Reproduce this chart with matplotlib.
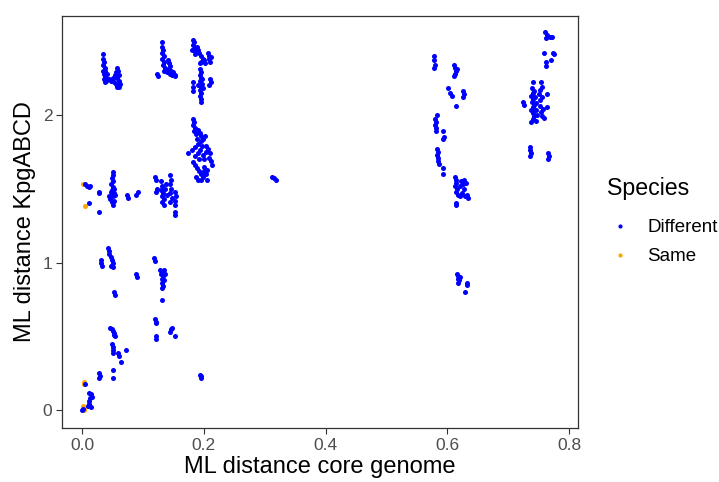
import numpy as np
import matplotlib
matplotlib.use("Agg")
import matplotlib.pyplot as plt
from matplotlib.lines import Line2D

plt.rcParams['font.family'] = ['Liberation Sans', 'DejaVu Sans']

# pairs of (core genome distance, KpgABCD distance)
# "Different" species pairs, grouped by cluster
top_left = [(0.034,2.41),(0.035,2.38),(0.036,2.36),(0.034,2.34),(0.037,2.32),(0.035,2.30),(0.036,2.28),
            (0.038,2.26),(0.036,2.24),(0.039,2.23),(0.037,2.22),(0.040,2.25),(0.045,2.24),(0.048,2.23),
            (0.052,2.22),(0.055,2.21),(0.058,2.20),(0.057,2.32),(0.059,2.30),(0.056,2.29),(0.060,2.27),
            (0.058,2.25),(0.061,2.23),(0.062,2.21),(0.054,2.27),(0.057,2.19),(0.060,2.19),(0.050,2.25),
            (0.038,2.30),(0.041,2.28)]
top_mid = [(0.131,2.49),(0.132,2.46),(0.133,2.44),(0.131,2.42),(0.134,2.40),(0.132,2.38),(0.135,2.36),
           (0.133,2.34),(0.136,2.32),(0.134,2.30),(0.137,2.31),(0.123,2.28),(0.124,2.26),(0.141,2.37),
           (0.143,2.35),(0.145,2.33),(0.142,2.31),(0.146,2.30),(0.144,2.28),(0.148,2.27),(0.150,2.29),
           (0.152,2.27),(0.153,2.26),(0.139,2.29)]
top_02 = [(0.182,2.51),(0.184,2.49),(0.183,2.47),(0.186,2.45),(0.181,2.44),(0.185,2.43),(0.188,2.46),
          (0.190,2.44),(0.186,2.41),(0.192,2.42),(0.195,2.40),(0.198,2.38),(0.196,2.36),(0.200,2.37),
          (0.202,2.35),(0.194,2.35),(0.207,2.42),(0.209,2.40),(0.208,2.38),(0.210,2.36),(0.211,2.39),
          (0.194,2.31),(0.195,2.29),(0.193,2.27),(0.196,2.25),(0.194,2.23),(0.197,2.21),(0.195,2.19),
          (0.193,2.17),(0.196,2.15),(0.194,2.13),(0.196,2.11),(0.195,2.09),(0.191,2.20),(0.198,2.18),
          (0.197,2.24),(0.183,2.22),(0.182,2.19),(0.183,2.16),(0.210,2.24),(0.211,2.22),(0.209,2.20)]
mid_02 = [(0.183,1.97),(0.184,1.95),(0.182,1.93),(0.185,1.91),(0.184,1.89),(0.187,1.87),(0.190,1.90),
          (0.193,1.88),(0.196,1.86),(0.199,1.84),(0.202,1.86),(0.195,1.82),(0.188,1.84),(0.191,1.80),
          (0.197,1.79),(0.204,1.79),(0.186,1.78),(0.174,1.74),(0.181,1.76),(0.185,1.72),(0.190,1.74),
          (0.194,1.76),(0.199,1.73),(0.203,1.75),(0.207,1.77),(0.210,1.74),(0.208,1.71),(0.212,1.69),
          (0.200,1.70),(0.192,1.70),(0.183,1.68),(0.186,1.66),(0.189,1.64),(0.192,1.62),(0.195,1.60),
          (0.198,1.58),(0.201,1.62),(0.204,1.60),(0.196,1.56),(0.187,1.58),(0.191,1.56),(0.205,1.56),
          (0.213,1.66),(0.200,1.65),(0.206,1.63)]
band_15 = [(0.005,1.53),(0.008,1.52),(0.011,1.51),(0.013,1.52),(0.028,1.48),(0.027,1.47),(0.012,1.40),
           (0.028,1.34),(0.050,1.61),(0.051,1.59),(0.049,1.57),(0.050,1.55),(0.048,1.53),(0.051,1.51),
           (0.049,1.49),(0.052,1.47),(0.050,1.45),(0.047,1.48),(0.053,1.50),(0.054,1.46),(0.046,1.43),
           (0.049,1.41),(0.053,1.42),(0.051,1.39),(0.044,1.45),(0.074,1.46),(0.075,1.44),(0.089,1.46),
           (0.092,1.48),(0.120,1.58),(0.121,1.56),(0.123,1.50),(0.122,1.48),(0.129,1.55),(0.131,1.52),
           (0.130,1.49),(0.133,1.47),(0.131,1.45),(0.134,1.43),(0.132,1.41),(0.135,1.39),(0.136,1.50),
           (0.145,1.59),(0.146,1.56),(0.144,1.53),(0.146,1.50),(0.145,1.47),(0.147,1.44),(0.144,1.41),
           (0.153,1.48),(0.154,1.45),(0.152,1.42),(0.153,1.39),(0.152,1.34),(0.153,1.32),(0.140,1.46),
           (0.138,1.53),(0.312,1.58),(0.316,1.57),(0.319,1.56)]
low_left = [(0.043,1.10),(0.044,1.08),(0.045,1.06),(0.031,1.02),(0.031,1.00),(0.032,0.98),(0.047,1.04),
            (0.049,1.02),(0.050,1.00),(0.048,0.98),(0.051,0.97),(0.118,1.03),(0.119,1.01),(0.128,0.95),
            (0.131,0.94),(0.134,0.95),(0.130,0.92),(0.133,0.91),(0.136,0.92),(0.131,0.89),(0.134,0.88),
            (0.132,0.86),(0.133,0.84),(0.131,0.83),(0.089,0.92),(0.090,0.90),(0.053,0.80),(0.054,0.78),
            (0.131,0.75),(0.120,0.62),(0.121,0.60),(0.121,0.59),(0.046,0.56),(0.049,0.55),(0.051,0.54),
            (0.052,0.52),(0.053,0.51),(0.054,0.50),(0.122,0.50),(0.122,0.48),(0.146,0.55),(0.148,0.56),
            (0.145,0.53),(0.152,0.50),(0.049,0.45),(0.050,0.43),(0.051,0.41),(0.051,0.39),(0.059,0.39),
            (0.060,0.37),(0.072,0.41),(0.064,0.33),(0.051,0.27),(0.051,0.22),(0.028,0.25),(0.029,0.23),
            (0.028,0.22),(0.194,0.24),(0.195,0.23),(0.196,0.22),(0.004,0.18),(0.012,0.12),(0.014,0.11),
            (0.016,0.09),(0.013,0.08),(0.011,0.06),(0.012,0.04),(0.010,0.03),(0.014,0.02),(0.000,0.00),
            (0.002,0.01)]
right_06 = [(0.578,2.40),(0.578,2.37),(0.579,2.34),(0.578,2.32),(0.611,2.34),(0.612,2.32),(0.614,2.30),
            (0.613,2.28),(0.611,2.26),(0.616,2.31),(0.601,2.18),(0.605,2.15),(0.608,2.13),(0.626,2.16),
            (0.627,2.14),(0.626,2.12),(0.615,2.06),(0.583,2.00),(0.580,1.97),(0.581,1.95),(0.580,1.93),
            (0.582,1.91),(0.581,1.89),(0.593,1.89),(0.594,1.85),(0.593,1.84),(0.583,1.77),(0.584,1.75),
            (0.583,1.73),(0.585,1.71),(0.584,1.69),(0.586,1.67),(0.593,1.64),(0.593,1.60),(0.613,1.58),
            (0.614,1.56),(0.615,1.54),(0.613,1.52),(0.616,1.50),(0.614,1.48),(0.617,1.46),(0.620,1.52),
            (0.622,1.55),(0.625,1.53),(0.628,1.56),(0.630,1.54),(0.627,1.50),(0.624,1.47),(0.629,1.45),
            (0.632,1.46),(0.634,1.44),(0.620,1.45),(0.615,1.40),(0.614,1.39),(0.616,0.92),(0.618,0.91),
            (0.620,0.90),(0.617,0.89),(0.619,0.88),(0.618,0.86),(0.633,0.86),(0.632,0.85),(0.629,0.80)]
right_075 = [(0.761,2.56),(0.763,2.54),(0.762,2.52),(0.768,2.53),(0.772,2.53),(0.759,2.42),(0.774,2.42),
             (0.775,2.41),(0.762,2.36),(0.762,2.33),(0.771,2.37),(0.741,2.22),(0.754,2.22),(0.755,2.19),
             (0.753,2.17),(0.739,2.18),(0.740,2.15),(0.738,2.13),(0.741,2.11),(0.739,2.09),(0.742,2.07),
             (0.740,2.05),(0.738,2.03),(0.741,2.01),(0.743,1.99),(0.740,1.97),(0.745,1.96),(0.738,1.95),
             (0.744,2.12),(0.746,2.08),(0.745,2.03),(0.747,2.00),(0.743,2.16),(0.751,2.14),(0.753,2.10),
             (0.752,2.06),(0.754,2.02),(0.756,1.99),(0.758,1.98),(0.755,2.12),(0.757,2.04),(0.764,2.14),
             (0.764,2.05),(0.725,2.09),(0.726,2.07),(0.736,1.78),(0.736,1.76),(0.737,1.74),(0.736,1.72),
             (0.766,1.74),(0.767,1.72),(0.766,1.70)]

# "Same" species pairs
same = [(0.002,1.53),(0.005,1.38),(0.003,0.18),(0.003,0.19),(0.002,0.03),(0.004,0.02),(0.003,0.00)]

different = np.array(top_left + top_mid + top_02 + mid_02 + band_15 + low_left + right_06 + right_075)
same = np.array(same)

xticks = [0.0, 0.2, 0.4, 0.6, 0.8]
yticks = [0, 1, 2]

fig = plt.figure(figsize=(7.19, 4.82), dpi=100)
ax = fig.add_axes([0.0862, 0.112, 0.718, 0.855])

ax.scatter(same[:, 0], same[:, 1], s=13, color='#FFA500', linewidths=0)
ax.scatter(different[:, 0], different[:, 1], s=13, color='#0000FF', linewidths=0)

ax.set_xlim(-0.033, 0.815)
ax.set_ylim(-0.12, 2.67)
ax.set_xticks(xticks)
ax.set_xticklabels(['0.0', '0.2', '0.4', '0.6', '0.8'])
ax.set_yticks(yticks)
ax.tick_params(direction='out', length=4, width=0.8, color='#333333',
               labelsize=12.5, labelcolor='#4D4D4D', pad=3)
for sp in ax.spines.values():
    sp.set_color('#333333')
    sp.set_linewidth(0.9)

ax.set_xlabel('ML distance core genome', fontsize=17, labelpad=2)
ax.set_ylabel('ML distance KpgABCD', fontsize=17, labelpad=5)

handles = [Line2D([], [], marker='o', linestyle='', markersize=3, color='#0000FF', markeredgewidth=0),
           Line2D([], [], marker='o', linestyle='', markersize=3, color='#FFA500', markeredgewidth=0)]
leg = fig.legend(handles, ['Different', 'Same'], title='Species', loc='upper left',
                 bbox_to_anchor=(0.821, 0.668), frameon=False, fontsize=13.5,
                 title_fontsize=16.7, handletextpad=0.75, labelspacing=0.62,
                 handlelength=1.4, alignment='left')
# a bit more room between the title and the keys
leg._legend_box.sep = 14

fig.savefig('out.png', dpi=100)
